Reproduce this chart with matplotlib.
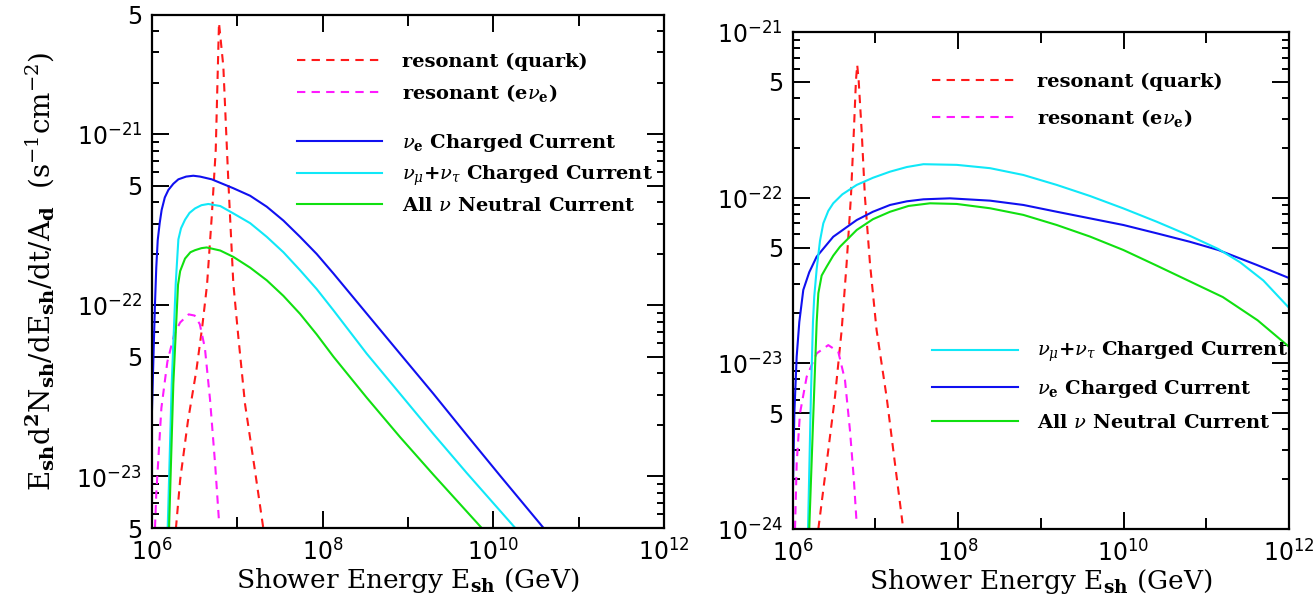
import matplotlib
matplotlib.use('Agg')
import numpy as np
from matplotlib import pyplot as plt
from matplotlib.ticker import FixedLocator, FixedFormatter, LogLocator, NullFormatter

plt.rcParams['mathtext.fontset'] = 'custom'
plt.rcParams['mathtext.rm'] = 'DejaVu Serif'
plt.rcParams['mathtext.it'] = 'DejaVu Serif:italic'
plt.rcParams['mathtext.bf'] = 'DejaVu Serif:bold'
plt.rcParams['mathtext.sf'] = 'DejaVu Sans'

# ---- left panel data (log10 E [GeV], log10 flux) ----
lgE_L_nue = [6.0, 6.02, 6.035, 6.05, 6.067, 6.09, 6.113, 6.15, 6.192, 6.25, 6.309, 6.40, 6.484, 6.563, 6.70,
             6.953, 7.15, 7.345, 7.54, 7.735, 7.93, 8.126, 8.517, 8.907, 9.298, 9.689, 10.08, 10.587]
lgF_L_nue = [-22.61, -22.25, -21.99, -21.78, -21.62, -21.52, -21.443, -21.37, -21.326, -21.29, -21.264, -21.248, -21.243, -21.248, -21.264,
             -21.316, -21.36, -21.424, -21.505, -21.60, -21.70, -21.814, -22.049, -22.283, -22.517, -22.758, -22.996, -23.30]

lgE_L_numu = [6.184, 6.231, 6.278, 6.309, 6.34, 6.387, 6.44, 6.504, 6.58, 6.66, 6.80, 6.953, 7.15, 7.345,
              7.54, 7.735, 7.93, 8.126, 8.517, 8.907, 9.298, 9.689, 10.255]
lgF_L_numu = [-23.30, -22.459, -21.873, -21.615, -21.55, -21.50, -21.46, -21.434, -21.415, -21.408, -21.42, -21.463, -21.52, -21.60,
              -21.69, -21.795, -21.905, -22.029, -22.283, -22.517, -22.752, -22.98, -23.30]

lgE_L_nc = [6.2, 6.25, 6.305, 6.33, 6.387, 6.45, 6.504, 6.58, 6.641, 6.80, 6.953, 7.15, 7.345,
            7.54, 7.735, 7.93, 8.126, 8.517, 8.907, 9.298, 9.88]
lgF_L_nc = [-23.30, -22.459, -21.88, -21.80, -21.727, -21.69, -21.678, -21.666, -21.662, -21.68, -21.717, -21.78, -21.854,
            -21.945, -22.05, -22.17, -22.30, -22.54, -22.77, -22.99, -23.31]

lgE_L_quark = [6.28, 6.33, 6.42, 6.52, 6.59, 6.645, 6.70, 6.747, 6.777, 6.785, 6.797, 6.836, 6.894, 6.953, 7.012, 7.09, 7.207, 7.305]
lgF_L_quark = [-23.305, -23.02, -22.68, -22.38, -22.12, -21.88, -21.483, -21.092, -20.506, -20.35, -20.409, -20.605, -21.269, -21.873, -22.186, -22.576, -22.967, -23.305]

lgE_L_enue = [6.035, 6.05, 6.08, 6.11, 6.18, 6.26, 6.33, 6.43, 6.50, 6.56, 6.62, 6.68, 6.74, 6.785]
lgF_L_enue = [-23.30, -23.1, -22.85, -22.6, -22.33, -22.17, -22.10, -22.053, -22.06, -22.11, -22.25, -22.55, -22.93, -23.26]

# ---- right panel data ----
lgE_R_nue = [6.0, 6.02, 6.048, 6.08, 6.128, 6.2, 6.29, 6.49, 6.774, 6.97, 7.177, 7.38, 7.58, 7.90, 8.386, 8.788, 9.192,
             9.595, 9.998, 10.40, 10.80, 11.146, 11.61, 12.0]
lgF_R_nue = [-23.85, -23.3, -22.96, -22.75, -22.557, -22.45, -22.356, -22.236, -22.135, -22.085, -22.044, -22.022, -22.01, -22.004, -22.018, -22.044, -22.085,
             -22.125, -22.165, -22.215, -22.266, -22.316, -22.406, -22.485]

lgE_R_numu = [6.185, 6.22, 6.245, 6.26, 6.29, 6.33, 6.37, 6.43, 6.49, 6.6, 6.774, 6.97, 7.177, 7.38, 7.58, 7.983, 8.386, 8.788,
              9.192, 9.595, 9.998, 10.40, 10.80, 11.146, 11.409, 11.69, 12.0]
lgF_R_numu = [-24.0, -23.2, -22.75, -22.6, -22.43, -22.26, -22.155, -22.08, -22.034, -21.98, -21.923, -21.88, -21.843, -21.815, -21.798, -21.802, -21.822, -21.863,
              -21.923, -21.99, -22.065, -22.145, -22.23, -22.31, -22.39, -22.50, -22.665]

lgE_R_nc = [6.2, 6.25, 6.29, 6.31, 6.35, 6.41, 6.49, 6.572, 6.774, 6.97, 7.177, 7.4, 7.66, 7.983, 8.386, 8.788, 9.192,
            9.595, 9.998, 10.40, 10.80, 11.2, 11.62, 12.0]
lgF_R_nc = [-24.0, -23.3, -22.75, -22.577, -22.47, -22.417, -22.35, -22.296, -22.195, -22.13, -22.085, -22.05, -22.034, -22.038, -22.064, -22.104, -22.165,
            -22.235, -22.316, -22.41, -22.505, -22.60, -22.74, -22.90]

lgE_R_quark = [6.31, 6.41, 6.511, 6.592, 6.652, 6.704, 6.74, 6.765, 6.78, 6.797, 6.833, 6.873, 6.934, 7.014, 7.135, 7.236, 7.328]
lgF_R_quark = [-24.0, -23.604, -23.202, -22.799, -22.396, -21.994, -21.591, -21.289, -21.199, -21.289, -21.591, -21.994, -22.396, -22.799, -23.202, -23.604, -23.966]

lgE_R_enue = [6.028, 6.048, 6.088, 6.169, 6.29, 6.43, 6.551, 6.632, 6.692, 6.74, 6.773]
lgF_R_enue = [-24.0, -23.604, -23.302, -23.081, -22.94, -22.89, -22.93, -23.101, -23.403, -23.705, -23.966]

x_ticks = [1e6, 1e8, 1e10, 1e12]
x_ticklabels = [r'10$^{\mathsf{6}}$', r'10$^{\mathsf{8}}$', r'10$^{\mathsf{10}}$', r'10$^{\mathsf{12}}$']
yL_ticks = [5e-24, 1e-23, 5e-23, 1e-22, 5e-22, 1e-21, 5e-21]
yL_ticklabels = ['5', r'10$^{\mathsf{-23}}$', '5', r'10$^{\mathsf{-22}}$', '5', r'10$^{\mathsf{-21}}$', '5']
yR_ticks = [1e-24, 5e-24, 1e-23, 5e-23, 1e-22, 5e-22, 1e-21]
yR_ticklabels = [r'10$^{\mathsf{-24}}$', '5', r'10$^{\mathsf{-23}}$', '5', r'10$^{\mathsf{-22}}$', '5', r'10$^{\mathsf{-21}}$']

lab_quark = 'resonant (quark)'
lab_enue = r'resonant (e$\nu_{\mathbf{e}}$)'
lab_nue = r'$\nu_{\mathbf{e}}$ Charged Current'
lab_numu = r'$\nu_\mu$+$\nu_\tau$ Charged Current'
lab_nc = r'All $\nu$ Neutral Current'

c_red, c_mag, c_blue, c_cyan, c_green = '#ff1a1a', '#ff1aff', '#1010f0', '#10e8f8', '#10e010'
serif = 'DejaVu Serif'


def style(ax, yticks, ylabels, ylim):
    ax.set_xscale('log')
    ax.set_yscale('log')
    ax.set_xlim(1e6, 1e12)
    ax.set_ylim(*ylim)
    ax.xaxis.set_major_locator(FixedLocator(x_ticks))
    ax.xaxis.set_major_formatter(FixedFormatter(x_ticklabels))
    ax.xaxis.set_minor_locator(FixedLocator([1e7, 1e9, 1e11]))
    ax.xaxis.set_minor_formatter(NullFormatter())
    ax.yaxis.set_major_locator(FixedLocator(yticks))
    ax.yaxis.set_major_formatter(FixedFormatter(ylabels))
    ax.yaxis.set_minor_locator(LogLocator(base=10, subs=[2, 3, 4, 6, 7, 8, 9], numticks=30))
    ax.yaxis.set_minor_formatter(NullFormatter())
    ax.tick_params(which='both', direction='in', top=True, right=True, width=1.4, colors='black')
    ax.tick_params(which='major', length=12, labelsize=17)
    ax.tick_params(axis='x', which='minor', length=8)
    ax.tick_params(axis='y', which='minor', length=5)
    ax.tick_params(axis='x', pad=7)
    ax.tick_params(axis='y', pad=7)
    for t in ax.get_xticklabels() + ax.get_yticklabels():
        t.set_fontfamily('DejaVu Sans')
    for s in ax.spines.values():
        s.set_linewidth(1.6)
    ax.set_xlabel(r'Shower Energy E$_{\mathbf{sh}}$ (GeV)', fontsize=19, family=serif, labelpad=1)


def draw(ax, E, F, **kw):
    h, = ax.plot(10.0 ** np.array(E), 10.0 ** np.array(F), lw=1.5, **kw)
    return h


fig = plt.figure(figsize=(13.15, 5.97), dpi=100)
axL = fig.add_axes([152 / 1315, 69 / 597, 512 / 1315, 513.5 / 597])
axR = fig.add_axes([792.7 / 1315, 68 / 597, 496.3 / 1315, 497 / 597])

# left panel
hq = draw(axL, lgE_L_quark, lgF_L_quark, color=c_red, ls=(0, (4, 3)), label=lab_quark)
he = draw(axL, lgE_L_enue, lgF_L_enue, color=c_mag, ls=(0, (4, 3)), label=lab_enue)
hb = draw(axL, lgE_L_nue, lgF_L_nue, color=c_blue, label=lab_nue)
hc = draw(axL, lgE_L_numu, lgF_L_numu, color=c_cyan, label=lab_numu)
hg = draw(axL, lgE_L_nc, lgF_L_nc, color=c_green, label=lab_nc)
style(axL, yL_ticks, yL_ticklabels, (5e-24, 5e-21))
axL.set_ylabel(r'E$_{\mathbf{sh}}$d$^{\mathbf{2}}$N$_{\mathbf{sh}}$/dE$_{\mathbf{sh}}$/dt/A$_{\mathbf{d}}$  (s$^{-1}$cm$^{-2}$)',
               fontsize=20, family=serif)
axL.yaxis.set_label_coords(-0.185, 0.5)

leg_kw = dict(frameon=False, handlelength=4.4, handletextpad=1.0,
              borderpad=0, borderaxespad=0, prop={'family': serif, 'size': 14, 'weight': 'bold'})
l1 = axL.legend(handles=[hq, he], loc='upper left', bbox_to_anchor=(0.283, 0.925), labelspacing=0.55, **leg_kw)
axL.add_artist(l1)
axL.legend(handles=[hb, hc, hg], loc='upper left', bbox_to_anchor=(0.283, 0.772), labelspacing=0.5, **leg_kw)

# right panel
hq2 = draw(axR, lgE_R_quark, lgF_R_quark, color=c_red, ls=(0, (4, 3)), label=lab_quark)
he2 = draw(axR, lgE_R_enue, lgF_R_enue, color=c_mag, ls=(0, (4, 3)), label=lab_enue)
hb2 = draw(axR, lgE_R_nue, lgF_R_nue, color=c_blue, label=lab_nue)
hc2 = draw(axR, lgE_R_numu, lgF_R_numu, color=c_cyan, label=lab_numu)
hg2 = draw(axR, lgE_R_nc, lgF_R_nc, color=c_green, label=lab_nc)
style(axR, yR_ticks, yR_ticklabels, (1e-24, 1e-21))

l2 = axR.legend(handles=[hq2, he2], loc='upper left', bbox_to_anchor=(0.281, 0.918), labelspacing=0.8, **leg_kw)
axR.add_artist(l2)
axR.legend(handles=[hc2, hb2, hg2], loc='upper left', bbox_to_anchor=(0.281, 0.38), labelspacing=0.7, **leg_kw)

fig.savefig('out.png', dpi=100)
